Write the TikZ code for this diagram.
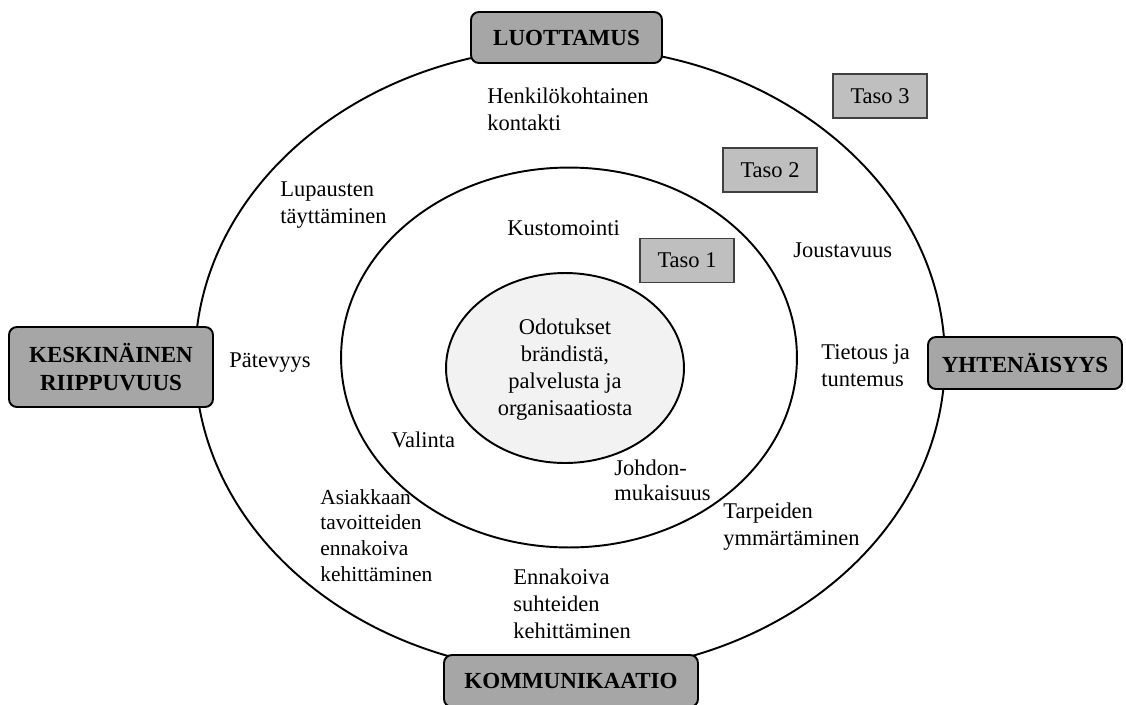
\documentclass[tikz,border=0pt]{standalone}
\usepackage{fontspec}
\setmainfont{Liberation Serif}

\definecolor{capgray}{HTML}{A6A6A6}
\definecolor{tasogray}{HTML}{BFBFBF}
\definecolor{coregray}{HTML}{F2F2F2}

\tikzset{
  pillar/.style={draw=black,line width=1.1pt,fill=capgray,rounded corners=4.5pt,
    font=\fontsize{13.1}{15.6}\selectfont\bfseries,align=center,inner sep=0pt},
  tasobox/.style={draw=black!75,line width=0.8pt,fill=tasogray,inner sep=0pt,
    minimum width=1.88cm,minimum height=0.88cm,font=\fontsize{12.8}{15.3}\selectfont},
  lbl/.style={anchor=base west,align=left,inner sep=0pt,font=\fontsize{12.8}{15.3}\selectfont}
}

\begin{document}
\begin{tikzpicture}[x=0.02cm,y=-0.02cm]
\useasboundingbox (0,0) rectangle (1126,704);
% the three levels
\draw[line width=1.1pt] (570,360) ellipse [x radius=7.5cm,y radius=6.26cm];
\draw[line width=1.1pt] (569,357.5) ellipse [x radius=4.56cm,y radius=3.8cm];
\draw[line width=1.1pt,fill=coregray] (565,368) ellipse [x radius=2.38cm,y radius=1.9cm];
% pillars
\node[pillar,minimum width=3.82cm,minimum height=1.02cm] (luot) at (566.5,37.5) {LUOTTAMUS};
\node[pillar,minimum width=4.08cm,minimum height=1.6cm] (kesk) at (111,367) {KESKINÄINEN\\RIIPPUVUUS};
\node[pillar,minimum width=3.88cm,minimum height=1.04cm] (yhte) at (1025,363) {YHTENÄISYYS};
\node[pillar,minimum width=5.08cm,minimum height=1.04cm] (komm) at (571,681) {KOMMUNIKAATIO};
% levels
\node[tasobox] (taso3) at (880,96) {Taso 3};
\node[tasobox] (taso2) at (770,170) {Taso 2};
\node[tasobox] (taso1) at (687,260.5) {Taso 1};
% centre (base = last line)
\node[lbl,anchor=base,align=center] (core) at (565,415) {Odotukset\\brändistä,\\palvelusta ja\\organisaatiosta};
% labels
\node[lbl] (henk) at (487,130) {Henkilökohtainen\\kontakti};
\node[lbl] (lupa) at (280,223) {Lupausten\\täyttäminen};
\node[lbl] (kust) at (507,235) {Kustomointi};
\node[lbl] (jous) at (793,257) {Joustavuus};
\node[lbl] (pate) at (229,367) {Pätevyys};
\node[lbl] (tiet) at (821,386) {Tietous ja\\tuntemus};
\node[lbl] (vali) at (391,447) {Valinta};
\node[lbl,font=\fontsize{12.2}{14.6}\selectfont] (asia) at (320,581) {Asiakkaan\\tavoitteiden\\ennakoiva\\kehittäminen};
\node[lbl,font=\fontsize{12.8}{14.2}\selectfont] (johd) at (614,500) {Johdon-\\mukaisuus};
\node[lbl] (tarp) at (723,545) {Tarpeiden\\ymmärtäminen};
\node[lbl] (enna) at (513,638) {Ennakoiva\\suhteiden\\kehittäminen};
\end{tikzpicture}
\end{document}
